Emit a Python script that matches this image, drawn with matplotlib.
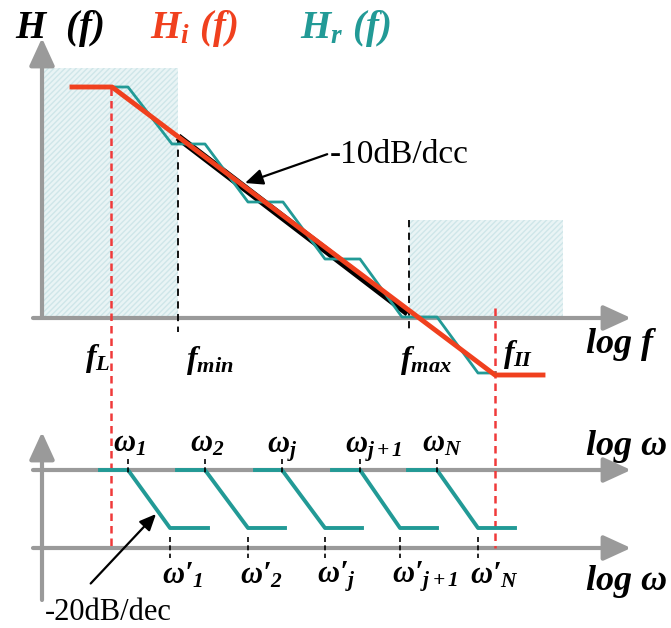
import numpy as np
import matplotlib
matplotlib.use("Agg")
import matplotlib.pyplot as plt
from matplotlib.patches import Rectangle, FancyArrowPatch

plt.rcParams['mathtext.fontset'] = 'custom'
plt.rcParams['mathtext.rm'] = 'Liberation Serif:italic:bold'
plt.rcParams['mathtext.it'] = 'Liberation Serif:italic:bold'
plt.rcParams['mathtext.bf'] = 'Liberation Serif:bold'

RED = '#f0401e'
TEAL = '#229a96'
GRAY = '#9a9a9a'

# schematic coordinates (pixel grid of the drawing, y grows downward)
# top panel: ideal response H_i and staircase approximation H_r
hi_x = [72, 112, 495, 543]
hi_y = [87, 87, 375, 375]
hr_x = [72, 128, 172, 205, 248, 283, 325, 360, 402, 437, 478, 495]
hr_y = [87, 87, 144, 144, 202, 202, 259, 259, 317, 317, 373, 373]
fit_x = [178, 408]
fit_y = [137, 313]
f_ticks = [111, 178, 409, 495]
f_labels = [r'$f_L$', r'$f_{min}$', r'$f_{max}$', r'$f_{II}$']

# bottom panel: first order sections, corner omega_k -> omega'_k
w_start = [100, 177, 255, 332, 408]
w_pole = [128, 205, 282, 360, 437]
w_zero = [170, 248, 325, 400, 478]
w_end = [208, 285, 362, 437, 515]
w_subs = ['1', '2', 'j', 'j+1', 'N']

Y_AXIS_TOP = 318
Y_W_HI = 470
Y_W_LO = 528
Y_AXIS_BOT = 548

fig = plt.figure(figsize=(6.71, 6.28), dpi=100)
ax = fig.add_axes([0, 0, 1, 1])
ax.set_xlim(0, 671)
ax.set_ylim(628, 0)
ax.axis('off')

# shaded regions
for x0, x1, y0 in [(44, 178, 68), (409, 563, 220)]:
    ax.add_patch(Rectangle((x0, y0), x1 - x0, Y_AXIS_TOP - y0, facecolor='#e9f4f5',
                           edgecolor='#cfe6e9', hatch='//////', lw=0, zorder=0))


def arrow_axis(x0, y0, x1, y1):
    ax.add_patch(FancyArrowPatch((x0, y0), (x1, y1), arrowstyle='-|>,head_length=1.2,head_width=0.55',
                                 mutation_scale=14, color=GRAY, lw=3, zorder=1,
                                 shrinkA=0, shrinkB=0))


# axes
arrow_axis(42, 318, 42, 38)
arrow_axis(33, Y_AXIS_TOP, 631, Y_AXIS_TOP)
arrow_axis(42, 600, 42, 432)
arrow_axis(33, Y_W_HI, 631, Y_W_HI)
arrow_axis(33, Y_AXIS_BOT, 631, Y_AXIS_BOT)

# dashed guides
ax.plot([178, 178], [137, 332], color='black', ls=(0, (4, 3)), lw=1.3, zorder=2)
ax.plot([409, 409], [220, 332], color='black', ls=(0, (4, 3)), lw=1.3, zorder=2)
ax.plot([111, 111], [88, 548], color='#f03a3a', ls=(0, (3, 2)), lw=1.8, zorder=2)
ax.plot([495, 495], [308, 548], color='#f03a3a', ls=(0, (3, 2)), lw=1.8, zorder=2)

# curves
ax.plot(fit_x, fit_y, color='black', lw=5.5, solid_capstyle='butt', zorder=3)
ax.plot(hr_x, hr_y, color=TEAL, lw=2, zorder=4)
ax.plot(hi_x, hi_y, color=RED, lw=3.5, zorder=5)

# bottom sections
for s, p, z, e in zip(w_start, w_pole, w_zero, w_end):
    ax.plot([s, p, z, e], [Y_W_HI, Y_W_HI, Y_W_LO, Y_W_LO], color=TEAL, lw=2.8, zorder=3)
    ax.plot([p, p], [459, 473], color='black', ls=(0, (3, 2)), lw=1.2, zorder=4)
    ax.plot([z, z], [537, 558], color='black', ls=(0, (3, 2)), lw=1.2, zorder=4)

# titles
ax.text(15, 38, r'$H\ \ (f)$', fontsize=28, color='black', va='baseline')
ax.text(150, 38, r'$H_i\ (f)$', fontsize=28, color=RED, va='baseline')
ax.text(300, 38, r'$H_r\ (f)$', fontsize=28, color=TEAL, va='baseline')

# f tick labels
f_off = [-26, 8, -9, 8]
f_base = [366, 368, 368, 362]
for x, lab, dx, yb in zip(f_ticks, f_labels, f_off, f_base):
    ax.text(x + dx, yb, lab, fontsize=23, va='baseline', ha='left')
ax.text(585, 353, r'$log\ f$', fontsize=26, va='baseline', ha='left')

for p, sub in zip(w_pole, w_subs):
    ax.text(p - 15, 452, r'$\omega_{%s}$' % sub, fontsize=22,
            va='baseline', ha='left')
for z, sub in zip(w_zero, w_subs):
    ax.text(z - 8, 583, '$\\omega\u2032_{%s}$' % sub, fontsize=22,
            va='baseline', ha='left')
ax.text(585, 455, r'$log\ \omega$', fontsize=26, va='baseline', ha='left')
ax.text(585, 590, r'$log\ \omega$', fontsize=26, va='baseline', ha='left')

# slope annotations
ax.annotate('-10dB/dcc', xy=(245, 183), xytext=(330, 163), fontsize=24,
            family='Liberation Serif', va='baseline', ha='left',
            arrowprops=dict(arrowstyle='-|>,head_length=0.45,head_width=0.2', color='black',
                            lw=1.6, shrinkA=0, shrinkB=0, relpos=(0, 0.55)))
ax.annotate('-20dB/dec', xy=(156, 514), xytext=(45, 620), fontsize=22,
            family='Liberation Serif', va='baseline', ha='left',
            arrowprops=dict(arrowstyle='-|>,head_length=0.45,head_width=0.2', color='black',
                            lw=1.6, shrinkA=0, shrinkB=0, relpos=(0.36, 1.5)))

fig.savefig('out.png', dpi=100)
